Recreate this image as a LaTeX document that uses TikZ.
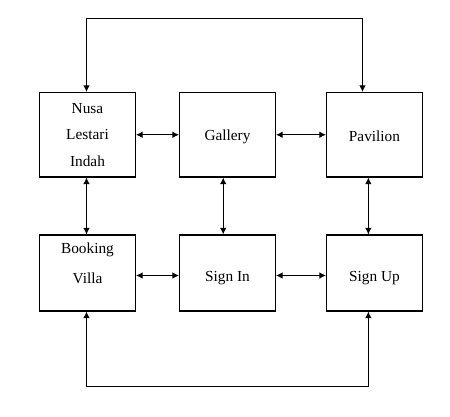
\documentclass[tikz,border=0pt]{standalone}
\usepackage{fontspec}
\setmainfont{Liberation Serif}
\usetikzlibrary{arrows.meta}

\begin{document}
\begin{tikzpicture}[x=0.75pt, y=-0.75pt,
		page/.style={draw, line width=0.8pt, minimum width=72pt, align=center, inner sep=0pt, font=\fontsize{11.5}{20}\selectfont},
		toprow/.style={page, minimum height=63.4pt},
		lowrow/.style={page, minimum height=57pt},
		link/.style={line width=0.8pt, {Latex[length=5pt,width=5pt]}-{Latex[length=5pt,width=5pt]}}]
			\useasboundingbox (0,0) rectangle (450,417);
			% pages of the site
			\begin{scope}
				\node[toprow] (nusa) at (87.5,134.75) {Nusa\\Lestari\\Indah};
				\node[toprow] (gallery) at (227.5,134.75) {\raisebox{-4.2pt}[0pt][0pt]{Gallery}};
				\node[toprow] (pavilion) at (374.5,134.75) {\raisebox{-5.2pt}[0pt][0pt]{Pavilion}};
				\node[lowrow] (booking) at (87.5,273) {Booking\\[2.3pt]Villa\\[-5.2pt]\mbox{}};
				\node[lowrow] (signin) at (227.5,273) {\raisebox{-6.5pt}[0pt][0pt]{Sign In}};
				\node[lowrow] (signup) at (374.5,273) {\raisebox{-6.5pt}[0pt][0pt]{Sign Up}};
			\end{scope}
			% links along the rows
			\draw[link] (nusa) -- (gallery);
			\draw[link] (gallery) -- (pavilion);
			\draw[link] ([yshift=-1.875pt]booking.east) -- ([yshift=-1.875pt]signin.west);
			\draw[link] ([yshift=-1.875pt]signin.east) -- ([yshift=-1.875pt]signup.west);
			% links down the columns
			\draw[link] ([xshift=-0.75pt]nusa.south) -- ([xshift=-0.75pt]booking.north);
			\draw[link] ([xshift=-3.2pt]gallery.south) -- ([xshift=-3.2pt]signin.north);
			\draw[link] ([xshift=-4.6pt]pavilion.south) -- ([xshift=-4.6pt]signup.north);
			% long links round the outside
			\draw[link] ([xshift=-0.75pt]nusa.north) -- ++(0,-73.5) -| ([xshift=-9pt]pavilion.north);
			\draw[link] ([xshift=-0.75pt]booking.south) -- ++(0,75) -| ([xshift=-4.6pt]signup.south);
		\end{tikzpicture}
\end{document}
